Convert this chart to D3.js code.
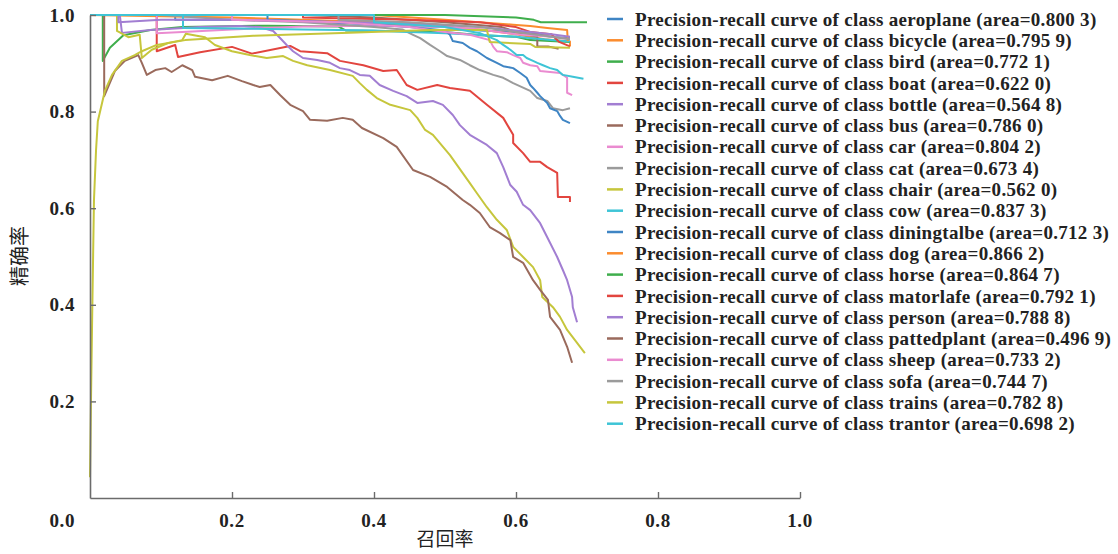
<!DOCTYPE html>
<html>
<head>
<meta charset="utf-8">
<script src="https://cdn.jsdelivr.net/npm/d3@7"></script>
<style>
  html, body { margin: 0; padding: 0; background: #fff; }
  svg text { font-family: "Liberation Serif", "Times New Roman", serif; }
</style>
</head>
<body>
<svg id="chart" width="1118" height="554"></svg>
<script>
// Class names and AP values shown in the legend
const classes = ["aeroplane", "bicycle", "bird", "boat", "bottle", "bus", "car", "cat", "chair", "cow",
  "diningtalbe", "dog", "horse", "matorlafe", "person", "pattedplant", "sheep", "sofa", "trains", "trantor"];
const areas = ["0.800 3", "0.795 9", "0.772 1", "0.622 0", "0.564 8", "0.786 0", "0.804 2", "0.673 4", "0.562 0", "0.837 3",
  "0.712 3", "0.866 2", "0.864 7", "0.792 1", "0.788 8", "0.496 9", "0.733 2", "0.744 7", "0.782 8", "0.698 2"];

const xTicks = [0.2, 0.4, 0.6, 0.8, 1.0];
const yTicks = [0.2, 0.4, 0.6, 0.8, 1.0];

// Precision-recall vertices [recall, precision] per class
const aeroplane = [[0,1],[0.12,1],[0.12,0.99],[0.25,0.99],[0.32,0.985],[0.42,0.98],[0.5,0.975],[0.55,0.968],[0.6,0.965],[0.63,0.96],[0.65,0.955],[0.676,0.952]];
const bicycle = [[0,1],[0.2,0.995],[0.3,0.99],[0.4,0.985],[0.5,0.975],[0.55,0.97],[0.6,0.96],[0.62,0.955],[0.64,0.95],[0.676,0.945],[0.676,0.935]];
const bird = [[0,1],[0.018,1],[0.018,0.905],[0.028,0.932],[0.047,0.958],[0.085,0.969],[0.13,0.975],[0.25,0.978],[0.35,0.976],[0.36,0.968],[0.5,0.965],[0.55,0.958],[0.6,0.955],[0.62,0.948],[0.676,0.944]];
const boat = [[0,1],[0.094,1],[0.094,0.925],[0.12,0.938],[0.124,0.913],[0.155,0.923],[0.2,0.934],[0.228,0.92],[0.282,0.936],[0.296,0.925],[0.334,0.921],[0.352,0.905],[0.385,0.896],[0.413,0.884],[0.432,0.886],[0.446,0.855],[0.461,0.845],[0.489,0.855],[0.507,0.849],[0.535,0.843],[0.559,0.814],[0.582,0.787],[0.596,0.752],[0.596,0.735],[0.61,0.714],[0.62,0.696],[0.634,0.696],[0.644,0.685],[0.658,0.673],[0.659,0.623],[0.676,0.623],[0.676,0.613]];
const bottle = [[0,1],[0.042,1],[0.045,0.963],[0.085,0.969],[0.155,0.975],[0.211,0.977],[0.239,0.975],[0.258,0.967],[0.268,0.952],[0.277,0.938],[0.286,0.925],[0.3,0.911],[0.32,0.907],[0.338,0.901],[0.352,0.89],[0.366,0.886],[0.38,0.876],[0.394,0.874],[0.408,0.855],[0.427,0.843],[0.446,0.832],[0.461,0.818],[0.483,0.822],[0.497,0.814],[0.511,0.793],[0.521,0.772],[0.535,0.752],[0.559,0.731],[0.573,0.714],[0.582,0.685],[0.592,0.648],[0.601,0.634],[0.61,0.607],[0.62,0.596],[0.634,0.569],[0.644,0.54],[0.658,0.499],[0.666,0.472],[0.672,0.451],[0.679,0.416],[0.68,0.395],[0.686,0.364]];
const bus = [[0,1],[0.3,1],[0.4,0.995],[0.5,0.985],[0.58,0.975],[0.6,0.965],[0.63,0.955],[0.63,0.935],[0.645,0.935],[0.66,0.93]];
const car = [[0,1],[0.094,1],[0.094,0.962],[0.13,0.965],[0.2,0.97],[0.3,0.976],[0.4,0.978],[0.5,0.975],[0.55,0.97],[0.6,0.96],[0.65,0.955],[0.676,0.95]];
const cat = [[0,1],[0.1,1],[0.2,0.99],[0.3,0.985],[0.4,0.975],[0.44,0.97],[0.455,0.959],[0.465,0.952],[0.479,0.938],[0.493,0.925],[0.503,0.915],[0.521,0.907],[0.535,0.896],[0.549,0.886],[0.568,0.876],[0.582,0.87],[0.596,0.859],[0.62,0.843],[0.63,0.828],[0.644,0.822],[0.652,0.807],[0.666,0.803],[0.676,0.807]];
const chair = [[0,1],[0.038,1],[0.038,0.967],[0.054,0.954],[0.07,0.959],[0.073,0.911],[0.087,0.928],[0.11,0.942],[0.13,0.948],[0.135,0.961],[0.162,0.954],[0.176,0.938],[0.2,0.925],[0.225,0.917],[0.249,0.911],[0.272,0.915],[0.286,0.905],[0.306,0.896],[0.338,0.886],[0.37,0.874],[0.38,0.859],[0.39,0.845],[0.404,0.828],[0.423,0.814],[0.451,0.803],[0.461,0.787],[0.472,0.762],[0.483,0.752],[0.507,0.71],[0.535,0.652],[0.545,0.631],[0.559,0.602],[0.573,0.576],[0.587,0.555],[0.596,0.52],[0.61,0.499],[0.624,0.478],[0.634,0.451],[0.637,0.416],[0.652,0.395],[0.662,0.375],[0.672,0.348],[0.686,0.321],[0.697,0.3]];
const cow = [[0,1],[0.131,1],[0.131,0.973],[0.2,0.972],[0.3,0.97],[0.4,0.968],[0.45,0.965],[0.5,0.962],[0.6,0.955],[0.65,0.948],[0.676,0.945]];
const diningtalbe = [[0,1],[0.25,1],[0.25,0.99],[0.35,0.985],[0.45,0.975],[0.5,0.968],[0.507,0.959],[0.511,0.946],[0.525,0.942],[0.535,0.932],[0.545,0.925],[0.559,0.911],[0.573,0.901],[0.582,0.894],[0.596,0.89],[0.606,0.88],[0.615,0.87],[0.62,0.855],[0.624,0.849],[0.63,0.839],[0.634,0.832],[0.644,0.818],[0.648,0.807],[0.658,0.801],[0.662,0.791],[0.666,0.783],[0.676,0.776]];
const dog = [[0,1],[0.4,1],[0.5,0.99],[0.596,0.98],[0.62,0.977],[0.644,0.973],[0.672,0.969],[0.673,0.946]];
const horse = [[0,1],[0.5,1],[0.6,0.995],[0.625,0.99],[0.635,0.985],[0.7,0.985]];
const matorlafe = [[0,1],[0.3,1],[0.3,0.995],[0.45,0.99],[0.55,0.985],[0.6,0.975],[0.62,0.965],[0.65,0.96],[0.66,0.945],[0.676,0.935]];
const person = [[0,1],[0.04,1],[0.04,0.985],[0.1,0.99],[0.2,0.99],[0.3,0.987],[0.45,0.983],[0.55,0.975],[0.6,0.968],[0.65,0.96],[0.676,0.955]];
const pattedplant = [[0,1],[0.02,1],[0.02,0.832],[0.035,0.884],[0.049,0.905],[0.068,0.917],[0.073,0.901],[0.08,0.876],[0.092,0.886],[0.106,0.89],[0.115,0.882],[0.13,0.896],[0.144,0.886],[0.148,0.872],[0.172,0.865],[0.194,0.874],[0.214,0.863],[0.23,0.855],[0.239,0.851],[0.254,0.855],[0.268,0.834],[0.282,0.814],[0.3,0.801],[0.31,0.783],[0.334,0.781],[0.356,0.787],[0.37,0.783],[0.383,0.766],[0.413,0.745],[0.432,0.727],[0.455,0.679],[0.479,0.665],[0.503,0.644],[0.525,0.617],[0.535,0.607],[0.549,0.59],[0.563,0.561],[0.577,0.549],[0.592,0.534],[0.596,0.499],[0.61,0.487],[0.624,0.451],[0.634,0.431],[0.645,0.41],[0.648,0.375],[0.662,0.348],[0.672,0.313],[0.679,0.28]];
const sheep = [[0,1],[0.2,1],[0.2,0.99],[0.35,0.985],[0.45,0.975],[0.5,0.965],[0.535,0.959],[0.563,0.948],[0.568,0.934],[0.573,0.925],[0.587,0.923],[0.596,0.917],[0.606,0.911],[0.61,0.901],[0.62,0.896],[0.63,0.894],[0.634,0.884],[0.662,0.88],[0.672,0.87],[0.672,0.839],[0.679,0.834]];
const sofa = [[0,1],[0.35,1],[0.35,0.99],[0.45,0.985],[0.55,0.975],[0.6,0.965],[0.65,0.955],[0.676,0.95]];
const trains = [[0,0.043],[0.0014,0.203],[0.003,0.369],[0.0056,0.617],[0.0085,0.72],[0.011,0.78],[0.021,0.843],[0.031,0.876],[0.045,0.905],[0.063,0.917],[0.073,0.925],[0.094,0.938],[0.134,0.948],[0.23,0.957],[0.366,0.963],[0.479,0.969],[0.559,0.969],[0.563,0.944],[0.62,0.94],[0.627,0.934],[0.676,0.932]];
const trantor = [[0,1],[0.4,1],[0.4,0.985],[0.5,0.975],[0.55,0.962],[0.573,0.948],[0.582,0.938],[0.592,0.928],[0.601,0.917],[0.61,0.917],[0.615,0.911],[0.624,0.905],[0.63,0.901],[0.638,0.896],[0.648,0.89],[0.658,0.886],[0.666,0.876],[0.68,0.872],[0.695,0.868]];

const curves = [aeroplane, bicycle, bird, boat, bottle, bus, car, cat, chair, cow,
  diningtalbe, dog, horse, matorlafe, person, pattedplant, sheep, sofa, trains, trantor];

// Ten-colour cycle, repeated for the second half of the classes
const palette = ["#3f85c4", "#fb8c2e", "#3fae4c", "#e2453f", "#a27ed2", "#9a6a5c", "#ea8bd0", "#9b9b9b", "#c6c63c", "#3ec4d6"];

const svg = d3.select("#chart");
const x = d3.scaleLinear().domain([0, 1]).range([90, 800]);
const y = d3.scaleLinear().domain([0, 1]).range([498, 15]);

// Curves
const line = d3.line().x(d => x(d[0])).y(d => y(d[1]));
svg.append("g").selectAll("path")
  .data(curves)
  .join("path")
  .attr("d", line)
  .attr("fill", "none")
  .attr("stroke", (d, i) => palette[i % 10])
  .attr("stroke-width", 2)
  .attr("stroke-linejoin", "round");

// Axes: ticks pointing inward
const axisColor = "#6b6b6b";
const xAxis = svg.append("g").attr("transform", `translate(0,${y(0)})`)
  .call(d3.axisBottom(x).tickValues(xTicks).tickSizeInner(-6).tickSizeOuter(0).tickFormat(""));
const yAxis = svg.append("g").attr("transform", `translate(${x(0)},0)`)
  .call(d3.axisLeft(y).tickValues(yTicks).tickSizeInner(-6).tickSizeOuter(0).tickFormat(""));
[xAxis, yAxis].forEach(g => {
  g.select(".domain").attr("stroke", axisColor).attr("stroke-width", 1.6);
  g.selectAll(".tick line").attr("stroke", axisColor).attr("stroke-width", 1.4);
});

function tickText(sel) {
  sel.attr("font-size", "19px")
    .attr("font-weight", "bold")
    .attr("letter-spacing", "0.6px")
    .attr("fill", "#222");
}
svg.append("g").selectAll("text")
  .data(xTicks)
  .join("text")
  .attr("x", d => x(d))
  .attr("y", 527)
  .attr("text-anchor", "middle")
  .call(tickText)
  .text(d => d.toFixed(1));
svg.append("g").selectAll("text")
  .data(yTicks)
  .join("text")
  .attr("x", 75)
  .attr("y", d => y(d))
  .attr("dy", "0.35em")
  .attr("text-anchor", "end")
  .call(tickText)
  .text(d => d.toFixed(1));
svg.append("text")
  .attr("x", 75).attr("y", 527)
  .attr("text-anchor", "end")
  .call(tickText)
  .text("0.0");

// Axis titles
svg.append("text")
  .attr("x", 445).attr("y", 546)
  .attr("text-anchor", "middle")
  .attr("font-size", "19px")
  .attr("fill", "#222")
  .style("font-family", "'Noto Sans CJK SC', sans-serif")
  .text("召回率");
svg.append("text")
  .attr("transform", "translate(27,256) rotate(-90)")
  .attr("text-anchor", "middle")
  .attr("font-size", "20px")
  .attr("fill", "#222")
  .style("font-family", "'Noto Sans CJK SC', sans-serif")
  .text("精确率");

// Legend
const legend = svg.append("g");
const rowY = i => 19 + i * 21.3;
legend.selectAll("line")
  .data(classes)
  .join("line")
  .attr("x1", 607).attr("x2", 623)
  .attr("y1", (d, i) => rowY(i)).attr("y2", (d, i) => rowY(i))
  .attr("stroke", (d, i) => palette[i % 10])
  .attr("stroke-width", 2.5);
legend.selectAll("text")
  .data(classes)
  .join("text")
  .attr("x", 635)
  .attr("y", (d, i) => rowY(i))
  .attr("dy", "0.35em")
  .attr("font-size", "19px")
  .attr("font-weight", "bold")
  .attr("letter-spacing", "0.3px")
  .attr("fill", "#222")
  .text((d, i) => `Precision-recall curve of class ${d} (area=${areas[i]})`);
</script>
</body>
</html>
